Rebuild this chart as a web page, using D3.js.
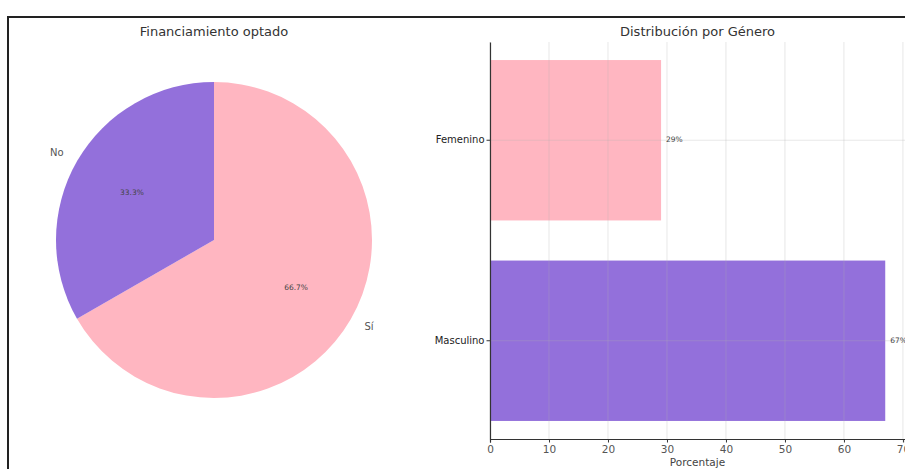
<!DOCTYPE html>
<html>
<head>
<meta charset="utf-8">
<script src="https://cdn.jsdelivr.net/npm/d3@7"></script>
<style>
  body { margin: 0; background: #fff; }
  svg { display: block; font-family: "DejaVu Sans", sans-serif; }
</style>
</head>
<body>
<svg width="905" height="469"></svg>
<script>
const svg = d3.select("svg");

// pie data
const pieLabels = ["Sí", "No"];
const pieValues = [66.7, 33.3];
const pieColors = ["#FFB6C1", "#9370DB"];

// bar data
const genders = ["Femenino", "Masculino"];
const genderValues = [29, 67];
const genderColors = ["#FFB6C1", "#9370DB"];
const xTicks = [0, 10, 20, 30, 40, 50, 60, 70];

// outer frame of the screenshot
svg.append("rect")
    .attr("x", 8).attr("y", 17)
    .attr("width", 940).attr("height", 480)
    .attr("fill", "none")
    .attr("stroke", "#222")
    .attr("stroke-width", 2);

// ---- pie ----
const cx = 214, cy = 240, r = 158;

svg.append("text")
    .attr("x", cx).attr("y", 36)
    .attr("text-anchor", "middle")
    .attr("font-size", 13)
    .attr("fill", "#333")
    .text("Financiamiento optado");

const pie = d3.pie().sort(null).value(d => d)(pieValues);
const arc = d3.arc().innerRadius(0).outerRadius(r);
const pieG = svg.append("g").attr("transform", `translate(${cx},${cy})`);

pieG.selectAll("path")
    .data(pie)
    .enter()
    .append("path")
    .attr("d", arc)
    .attr("fill", (d, i) => pieColors[i]);

const mid = d => (d.startAngle + d.endAngle) / 2;

pieG.selectAll("text.pct")
    .data(pie)
    .enter()
    .append("text")
    .attr("x", d => Math.sin(mid(d)) * r * 0.6)
    .attr("y", d => -Math.cos(mid(d)) * r * 0.6)
    .attr("text-anchor", "middle")
    .attr("dominant-baseline", "middle")
    .attr("font-size", 7.5)
    .attr("fill", "#444")
    .text(d => d.data.toFixed(1) + "%");

pieG.selectAll("text.lab")
    .data(pie)
    .enter()
    .append("text")
    .attr("x", d => Math.sin(mid(d)) * r * 1.1)
    .attr("y", d => -Math.cos(mid(d)) * r * 1.1)
    .attr("text-anchor", d => Math.sin(mid(d)) < 0 ? "end" : "start")
    .attr("dominant-baseline", "middle")
    .attr("font-size", 10)
    .attr("fill", "#555")
    .text((d, i) => pieLabels[i]);

// ---- bars ----
const plotLeft = 490, plotRight = 905, plotTop = 42, plotBottom = 439;

svg.append("text")
    .attr("x", (plotLeft + plotRight) / 2).attr("y", 36)
    .attr("text-anchor", "middle")
    .attr("font-size", 13)
    .attr("fill", "#333")
    .text("Distribución por Género");

const x = d3.scaleLinear().domain([0, 70.35]).range([plotLeft, plotRight]);
const y = d3.scaleBand()
    .domain(genders)
    .range([plotTop, plotBottom])
    .paddingInner(0.2)
    .paddingOuter(0.09);

svg.selectAll("rect.bar")
    .data(genders)
    .enter()
    .append("rect")
    .attr("x", x(0))
    .attr("y", d => y(d))
    .attr("width", (d, i) => x(genderValues[i]) - x(0))
    .attr("height", y.bandwidth())
    .attr("fill", (d, i) => genderColors[i]);

// grid lines over the bars
const grid = svg.append("g")
    .attr("stroke", "#b0b0b0")
    .attr("stroke-opacity", 0.3)
    .attr("stroke-width", 1);

grid.selectAll("line.v")
    .data(xTicks)
    .enter()
    .append("line")
    .attr("x1", d => x(d)).attr("x2", d => x(d))
    .attr("y1", plotTop).attr("y2", plotBottom);

grid.selectAll("line.h")
    .data(genders)
    .enter()
    .append("line")
    .attr("x1", plotLeft).attr("x2", plotRight)
    .attr("y1", d => y(d) + y.bandwidth() / 2)
    .attr("y2", d => y(d) + y.bandwidth() / 2);

svg.selectAll("text.val")
    .data(genders)
    .enter()
    .append("text")
    .attr("x", (d, i) => x(genderValues[i]) + 5)
    .attr("y", d => y(d) + y.bandwidth() / 2)
    .attr("dominant-baseline", "middle")
    .attr("font-size", 7.5)
    .attr("fill", "#444")
    .text((d, i) => genderValues[i] + "%");

const xAxis = svg.append("g")
    .attr("transform", `translate(0,${plotBottom})`)
    .call(d3.axisBottom(x).tickValues(xTicks).tickSize(3.5).tickPadding(3));
xAxis.select(".domain").attr("stroke", "#333").attr("stroke-width", 1.2);
xAxis.selectAll(".tick line").attr("stroke", "#333");
xAxis.selectAll(".tick text")
    .attr("font-size", 10.5)
    .attr("fill", "#555")
    .attr("font-family", "DejaVu Sans, sans-serif");

const yAxis = svg.append("g")
    .attr("transform", `translate(${plotLeft},0)`)
    .call(d3.axisLeft(y).tickSize(3.5).tickPadding(2).tickSizeOuter(0));
yAxis.select(".domain").attr("stroke", "#333").attr("stroke-width", 1.2);
yAxis.selectAll(".tick line").attr("stroke", "#333");
yAxis.selectAll(".tick text")
    .attr("font-size", 10)
    .attr("fill", "#222")
    .attr("font-family", "DejaVu Sans, sans-serif");

svg.append("text")
    .attr("x", (plotLeft + plotRight) / 2).attr("y", 466)
    .attr("text-anchor", "middle")
    .attr("font-size", 10.5)
    .attr("fill", "#444")
    .text("Porcentaje");
</script>
</body>
</html>
